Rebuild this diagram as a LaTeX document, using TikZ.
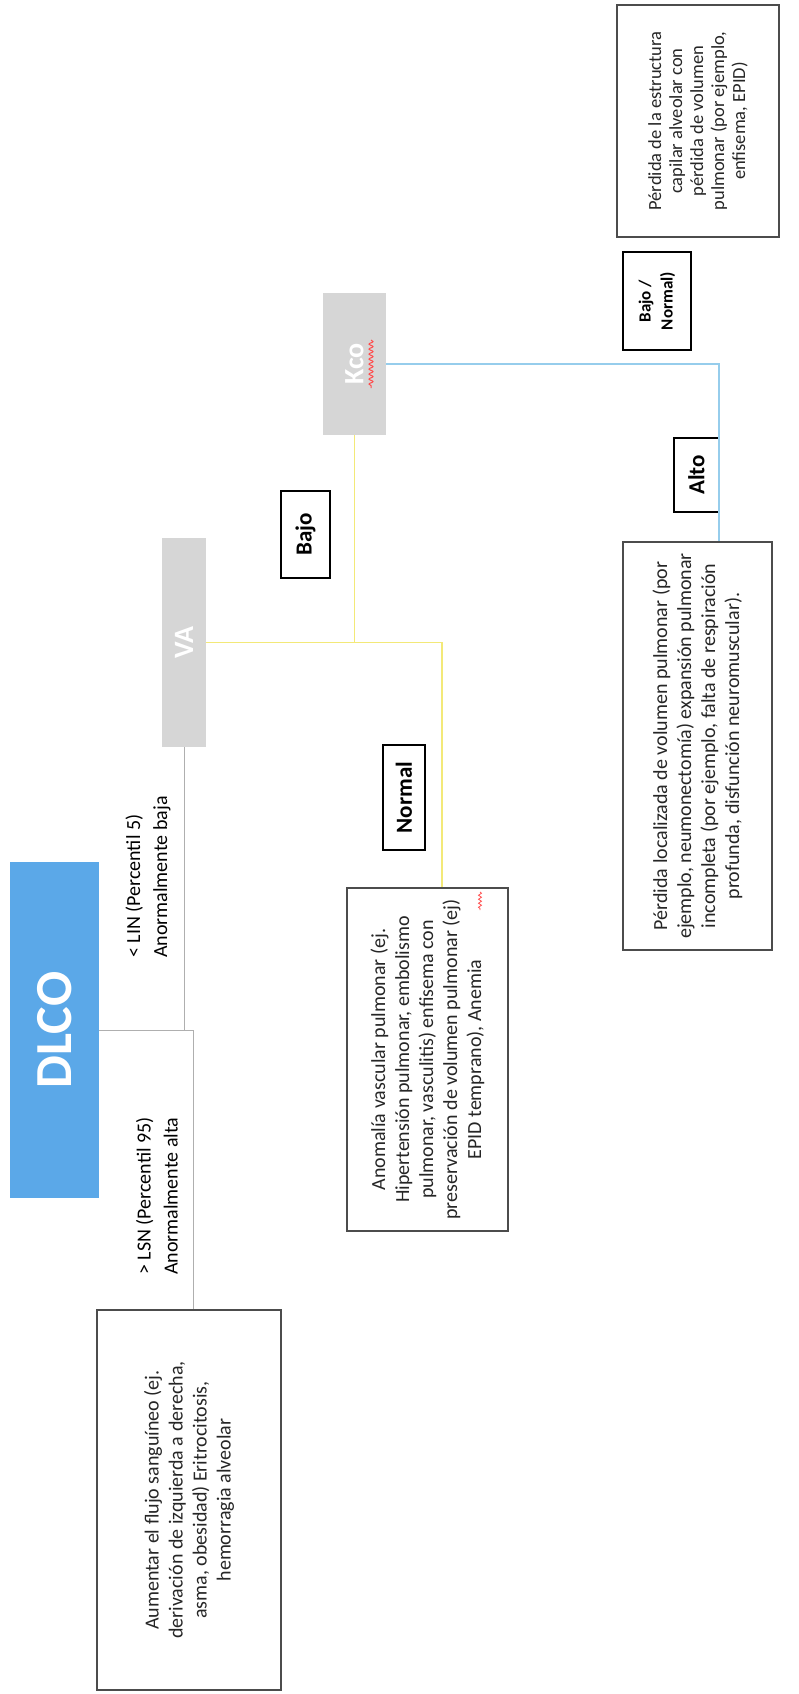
\documentclass[tikz,border=0pt]{standalone}
\usepackage{fontspec}
\setmainfont{Carlito}
\usetikzlibrary{decorations.pathmorphing}
\definecolor{dlcoBlue}{RGB}{91,168,232}
\definecolor{headGrey}{RGB}{214,214,214}
\definecolor{linkGrey}{RGB}{175,175,175}
\definecolor{linkYellow}{RGB}{243,233,120}
\definecolor{linkBlue}{RGB}{150,205,236}
\newcommand{\descFont}[0]{\fontsize{20}{24}\selectfont}
\newcommand{\tagFont}[0]{\bfseries\fontsize{23}{26}\selectfont}

\begin{document}
\begin{tikzpicture}[x=1pt, y=-1pt]
  \tikzset{
    desc box/.style={draw=black!70, line width=1.4pt, rotate=90, align=center, inner sep=0pt, font=\descFont, text=black!85},
    tag box/.style={draw=black, line width=1.8pt, rotate=90, inner sep=0pt, font=\tagFont},
    head box/.style={rotate=90, inner sep=0pt, text=white},
    limit text/.style={rotate=90, anchor=west, align=left, inner sep=0pt, font=\fontsize{20}{27}\selectfont},
    grey link/.style={draw=linkGrey, line width=1pt},
    yellow link/.style={draw=linkYellow, line width=1.6pt},
    blue link/.style={draw=linkBlue, line width=1.2pt}
  }
  \useasboundingbox[fill=white] (0,0) rectangle (798,1694);
  \node[head box, fill=dlcoBlue, minimum width=336, minimum height=89, font=\bfseries\fontsize{52}{52}\selectfont] (DLCO-box) at (54.5,1030) {DLCO};
  \node[head box, fill=headGrey, minimum width=209, minimum height=44, font=\bfseries\fontsize{28}{28}\selectfont] (VA-box) at (184,642.5) {VA};
  \node[head box, fill=headGrey, minimum width=142, minimum height=63, font=\bfseries\fontsize{28}{28}\selectfont] (Kco-box) at (354.5,364) {Kco};
  \node[limit text] (LIN-text) at (148,958) {< LIN (Percentil 5)\\Anormalmente baja};
  \node[limit text] (LSN-text) at (157,1275) {> LSN (Percentil 95)\\Anormalmente alta};
  \node[tag box, minimum width=87, minimum height=49] (Bajo-tag) at (305.5,534.5) {Bajo};
  \node[tag box, minimum width=105, minimum height=42] (Normal-tag) at (404,797.5) {Normal};
  \node[tag box, minimum width=74, minimum height=45] (Alto-tag) at (696.5,475) {Alto};
  \node[tag box, minimum width=98, minimum height=68, align=center, font=\bfseries\fontsize{17}{22}\selectfont] (BajoNormal-tag) at (657,301) {Bajo /\\Normal)};
  \node[desc box, minimum width=380, minimum height=184] (Alta-desc) at (189,1500) {Aumentar el flujo sanguíneo (ej.\\derivación de izquierda a derecha,\\asma, obesidad) Eritrocitosis,\\hemorragia alveolar};
  \node[desc box, minimum width=343, minimum height=161] (Normal-desc) at (427.5,1059.5) {Anomalía vascular pulmonar (ej.\\Hipertensión pulmonar, embolismo\\pulmonar, vasculitis) enfisema con\\preservación de volumen pulmonar (ej)\\EPID temprano), Anemia};
  \node[desc box, minimum width=408, minimum height=149] (Alto-desc) at (697.5,746) {Pérdida localizada de volumen pulmonar (por\\ejemplo, neumonectomía) expansión pulmonar\\incompleta (por ejemplo, falta de respiración\\profunda, disfunción neuromuscular).};
  \node[desc box, minimum width=232, minimum height=162, font=\fontsize{18.5}{21}\selectfont] (BajoNormal-desc) at (698,121) {Pérdida de la estructura\\capilar alveolar con\\pérdida de volumen\\pulmonar (por ejemplo,\\enfisema, EPID)};
  \coordinate (LSN-turn) at (193,1030);
  \coordinate (Normal-turn) at (442,642.5);
  \coordinate (Alto-turn) at (719,364);
  \draw[grey link] (VA-box.west) -- (VA-box.west |- DLCO-box.south);
  \draw[grey link] (DLCO-box.south) -- (LSN-turn) -- (LSN-turn |- Alta-desc.east);
  \draw[yellow link] (VA-box.south) -- (Normal-turn) -- (Normal-turn |- Normal-desc.east);
  \draw[yellow link] (Kco-box.west) -- (Kco-box.west |- VA-box.south);
  \draw[blue link] (Kco-box.south) -- (Alto-turn) -- (Alto-turn |- Alto-desc.east);
  \draw[red!70, line width=1pt, decorate, decoration={snake, amplitude=2pt, segment length=5pt}] (371,340) -- (371,388);
  \draw[red!70, line width=0.8pt, decorate, decoration={snake, amplitude=1.5pt, segment length=4pt}] (480,892) -- (480,910);
\end{tikzpicture}
\end{document}
